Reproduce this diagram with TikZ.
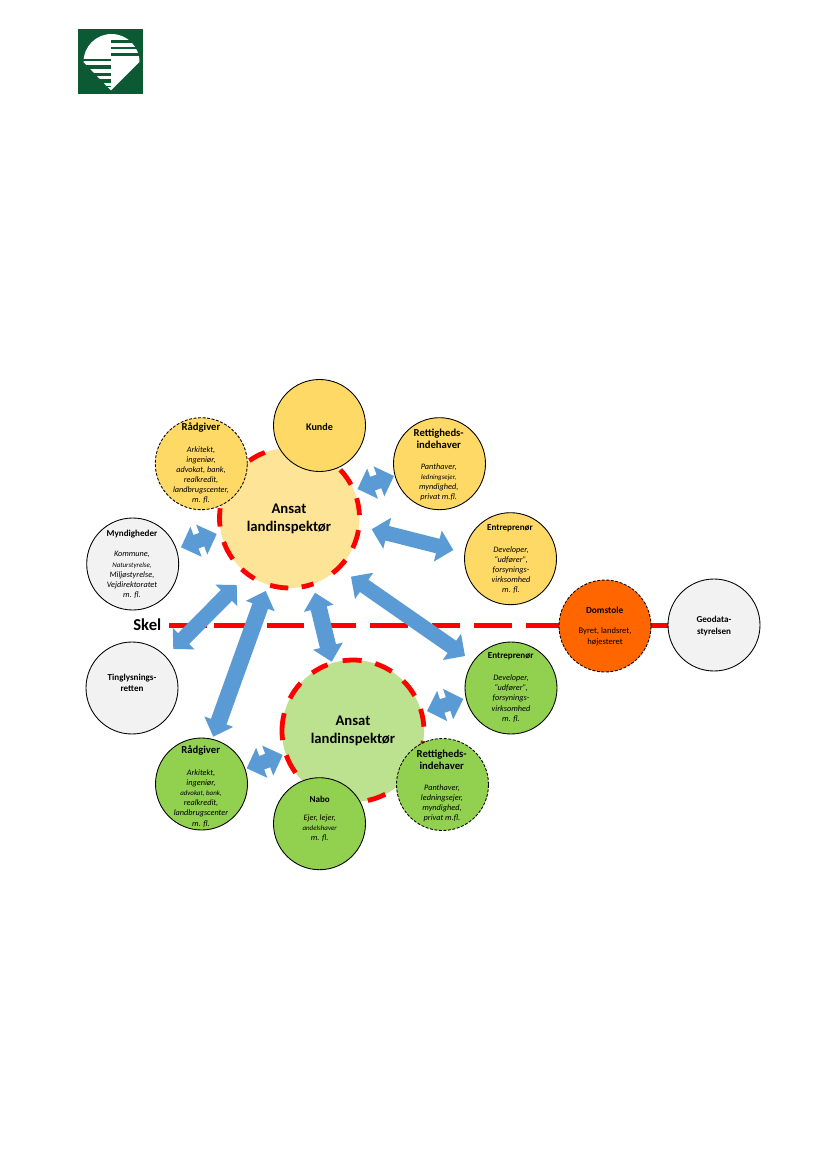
\documentclass[tikz,border=0pt]{standalone}
\usepackage{fontspec}
\setmainfont{Carlito}
\usetikzlibrary{calc}
\definecolor{yel}{HTML}{FFD966}
\definecolor{paleyel}{HTML}{FEE497}
\definecolor{grn}{HTML}{92D050}
\definecolor{palegrn}{HTML}{BCE28F}
\definecolor{gry}{HTML}{F2F2F2}
\definecolor{org}{HTML}{FF6600}
\definecolor{blu}{HTML}{5B9BD5}
\definecolor{logogrn}{HTML}{0B5A33}
\definecolor{skelred}{HTML}{FF0000}
\tikzset{
  circ/.style={circle,draw=black,line width=0.65pt,minimum size=69pt,inner sep=0pt,outer sep=0pt},
  dashcirc/.style={circ,dash pattern=on 2.2pt off 1.2pt},
  hub/.style={circle,draw=none,minimum size=105pt,inner sep=0pt,outer sep=0pt},
  ring/.style={draw=skelred,line width=3.6pt},
  skelline/.style={draw=skelred,line width=3.4pt},
  hd/.style={inner sep=0pt,align=center,font=\fontsize{8}{8.8}\selectfont\bfseries},
  hdn/.style={inner sep=0pt,align=center,font=\fontsize{6.8}{8.6}\selectfont\bfseries},
  bd/.style={inner sep=0pt,align=center,font=\fontsize{6.2}{7.6}\selectfont\itshape},
  big/.style={inner sep=0pt,align=center,font=\fontsize{11}{13.4}\selectfont\bfseries},
}
\newcommand{\smt}[1]{{\fontsize{5.2}{7.6}\selectfont #1}}
% double block arrow between two named coordinates
\newcommand{\blockarrow}[5]{%
  \fill[blu] (#1)
  -- ($(#1)!#5!(#2)!#4!90:(#2)$)
  -- ($(#1)!#5!(#2)!#3!90:(#2)$)
  -- ($(#2)!#5!(#1)!#3!-90:(#1)$)
  -- ($(#2)!#5!(#1)!#4!-90:(#1)$)
  -- (#2)
  -- ($(#2)!#5!(#1)!#4!90:(#1)$)
  -- ($(#2)!#5!(#1)!#3!90:(#1)$)
  -- ($(#1)!#5!(#2)!#3!-90:(#2)$)
  -- ($(#1)!#5!(#2)!#4!-90:(#2)$)
  -- cycle;}
\begin{document}
\begin{tikzpicture}[x=0.75pt,y=-0.75pt]
\useasboundingbox (0,0) rectangle (826,1169);
\fill[white] (0,0) rectangle (826,1169);
% logo
\fill[logogrn] (78,29) rectangle (143,94);
\coordinate (logoc) at (111.5,62);
\fill[white] ($(logoc)+(0:21pt)$) arc[start angle=0,end angle=180,radius=21pt] -- (111,90.5) -- cycle;
\fill[logogrn] (111,40) rectangle (143,42.7);
\fill[logogrn] (111,46.7) rectangle (143,49.3);
\fill[logogrn] (111,53.3) rectangle (143,56);
\fill[logogrn] (78,59) rectangle (111,61.4);
\fill[logogrn] (78,65) rectangle (111,69);
\fill[logogrn] (78,72.7) rectangle (111,76);
\fill[logogrn] (78,79.3) rectangle (111,82.7);
\fill[logogrn] (103,86) rectangle (111,87);
% Skel line
\foreach \a/\b in {169/207,214/246,267/304,330/356,370/408,432/460,474/512,526/668}
  \draw[skelline] (\a,625.3) -- (\b,625.3);
\node[inner sep=0pt,font=\fontsize{12.5}{14}\selectfont\bfseries] (skel) at (147.3,625) {Skel};
% hubs
\node[hub,fill=paleyel] (hubA) at (289.5,518) {};
\node[hub,fill=palegrn,minimum size=106.5pt] (hubB) at (353,731) {};
\foreach \a/\b in {125/110.6,43.5/28.5,16.4/2.4,-10/-25.4,-37/-52,-70/-80,-91/-106,-120/-133,-144/-160,-173/-188}
  \draw[ring] ($(hubA)+(\a:52.5pt)$) arc[start angle=\a,end angle=\b,radius=52.5pt];
\foreach \a/\b in {98.4/83,71.7/57,45/29.7,18/3.5,-8/-25,-63/-78,-144/-160,-172.6/-194.5,152.6/137.6,125/111}
  \draw[ring] ($(hubB)+(\a:53.25pt)$) arc[start angle=\a,end angle=\b,radius=53.25pt];
% arrow ends
\coordinate (a1a) at (357.5,489); \coordinate (a1b) at (394,476);
\coordinate (a2a) at (181,547.3); \coordinate (a2b) at (216.7,534);
\coordinate (a3a) at (371.7,529.3); \coordinate (a3b) at (453.3,550);
\coordinate (a4a) at (351,576.7); \coordinate (a4b) at (465,656);
\coordinate (a5a) at (236.7,585); \coordinate (a5b) at (173.3,649);
\coordinate (a6a) at (265.7,591); \coordinate (a6b) at (213.3,736.7);
\coordinate (a7a) at (315,592.7); \coordinate (a7b) at (331.7,661.7);
\coordinate (a8a) at (427,711); \coordinate (a8b) at (463.3,699);
\coordinate (a9a) at (246.7,768.3); \coordinate (a9b) at (282.7,755);
\blockarrow{a1a}{a1b}{5.4pt}{12pt}{12pt}
\blockarrow{a2a}{a2b}{5.4pt}{12pt}{12pt}
\blockarrow{a3a}{a3b}{5.6pt}{12pt}{12pt}
\blockarrow{a4a}{a4b}{5.6pt}{12pt}{12pt}
\blockarrow{a5a}{a5b}{5.8pt}{11.5pt}{11pt}
\blockarrow{a6a}{a6b}{6.2pt}{11.5pt}{12pt}
\blockarrow{a7a}{a7b}{6.2pt}{11.5pt}{12pt}
\blockarrow{a8a}{a8b}{5.4pt}{12pt}{12pt}
\blockarrow{a9a}{a9b}{5.4pt}{12pt}{12pt}
% circles
\node[circ,fill=yel] (kunde) at (319.5,425.5) {};
\node[dashcirc,fill=yel] (radA) at (201.3,463.7) {};
\node[circ,fill=gry] (mynd) at (132.7,564) {};
\node[circ,fill=yel] (retA) at (439.5,463.7) {};
\node[circ,fill=yel] (entA) at (510.5,558.7) {};
\node[dashcirc,fill=org] (dom) at (605,626) {};
\node[circ,fill=gry] (geo) at (714,625) {};
\node[circ,fill=grn] (entB) at (511,688) {};
\node[dashcirc,fill=grn] (retB) at (442.5,784.5) {};
\node[circ,fill=grn] (nabo) at (319.5,823.7) {};
\node[circ,fill=grn] (radB) at (201.5,784) {};
\node[circ,fill=gry] (ting) at (132,688) {};
% texts
\node[big] (hubAt) at (289,519) {Ansat\\landinspektør};
\node[big] (hubBt) at (353,731) {Ansat\\landinspektør};
\node[hdn,font=\fontsize{7.6}{8.6}\selectfont\bfseries] (kundet) at (319.5,427) {Kunde};
\node[hd] (radAh) at (201,428) {Rådgiver};
\node[bd] (radAb) at (201,475) {Arkitekt,\\ingeniør,\\advokat, bank,\\realkredit,\\landbrugscenter,\\m. fl.};
\node[hdn] (myndh) at (132,534) {Myndigheder};
\node[bd] (myndb) at (132,575) {Kommune,\\\smt{Naturstyrelse,}\\Miljøstyrelse,\\Vejdirektoratet\\m. fl.};
\node[hd] (retAh) at (438.7,438.5) {Rettigheds-\\indehaver};
\node[bd] (retAb) at (438.7,482) {Panthaver,\\\smt{ledningsejer,}\\myndighed,\\privat m.fl.};
\node[hdn] (entAh) at (510,528) {Entreprenør};
\node[bd] (entAb) at (511,570) {Developer,\\“udfører”,\\forsynings-\\virksomhed\\m. fl.};
\node[hdn,font=\fontsize{7}{8.6}\selectfont\bfseries] (domh) at (604.7,610) {Domstole};
\node[bd,font=\fontsize{6.4}{7.6}\selectfont] (domb) at (605,636.7) {Byret, landsret,\\højesteret};
\node[hdn] (geot) at (714,626) {Geodata-\\styrelsen};
\node[hdn] (entBh) at (510.7,656.7) {Entreprenør};
\node[bd] (entBb) at (511,698.5) {Developer,\\“udfører”,\\forsynings-\\virksomhed\\m. fl.};
\node[hd] (retBh) at (441.7,760) {Rettigheds-\\indehaver};
\node[bd] (retBb) at (442,803) {Panthaver,\\ledningsejer,\\myndighed,\\privat m.fl.};
\node[hdn] (naboh) at (319.7,799.7) {Nabo};
\node[bd] (nabob) at (319.7,828) {Ejer, lejer,\\\smt{andelshaver}\\m. fl.};
\node[hd] (radBh) at (200.7,750.7) {Rådgiver};
\node[bd] (radBb) at (201,798.3) {Arkitekt,\\ingeniør,\\\smt{advokat, bank,}\\realkredit,\\landbrugscenter\\m. fl.};
\node[hdn] (tingt) at (132,683) {Tinglysnings-\\retten};
\end{tikzpicture}
\end{document}
